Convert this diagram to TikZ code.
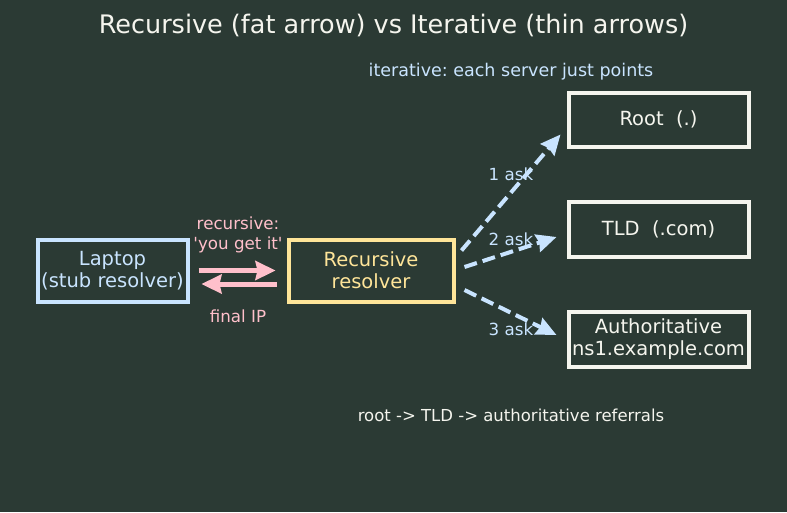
\documentclass[tikz,border=0pt]{standalone}
\usepackage{fontspec}
\setmainfont{DejaVu Sans}
\usetikzlibrary{arrows.meta}
\definecolor{bgcol}{HTML}{2B3A34}
\definecolor{lblue}{HTML}{C9E4FF}
\definecolor{lyellow}{HTML}{FFE599}
\definecolor{lpink}{HTML}{FFC0CB}
\definecolor{offwhite}{HTML}{F5F5EE}
\frenchspacing
\tikzset{
	box/.style={draw, line width=4pt, fill=bgcol, align=center, inner sep=0pt,
		font=\fontsize{19.5}{22}\selectfont},
	fat/.style={lpink, line width=5pt, -{Stealth[length=20pt,width=19pt,inset=2pt]}},
	iter/.style={lblue, line width=4pt, dash pattern=on 13pt off 6pt,
		-{Stealth[length=20pt,width=18pt,inset=2pt]}},
	small/.style={font=\fontsize{16.7}{20}\selectfont}
}
\begin{document}
\begin{tikzpicture}[x=1pt,y=-1pt]
			\fill[bgcol] (0,0) rectangle (787,512);
			\useasboundingbox (0,0) rectangle (787,512);
			
			\node[text=offwhite, font=\fontsize{25.5}{30}\selectfont] (title) at (393.5,25) {Recursive (fat arrow) vs Iterative (thin arrows)};
			\node[text=lblue, font=\fontsize{17.5}{21}\selectfont] (itnote) at (511,72) {iterative: each server just points};
			
			\node[box, draw=lblue, text=lblue, minimum width=150pt, minimum height=62pt] (lap) at (112.5,270.5) {Laptop\\(stub resolver)};
			\node[box, draw=lyellow, text=lyellow, minimum width=165pt, minimum height=62pt] (res) at (371,270.5) {Recursive\\resolver};
			\node[box, draw=offwhite, text=offwhite, minimum width=180pt, minimum height=54pt] (root) at (658.5,119.5) {Root\ \ (.)};
			\node[box, draw=offwhite, text=offwhite, minimum width=180pt, minimum height=55pt] (tld) at (658.5,229) {TLD\ \ (.com)};
			\node[box, draw=offwhite, text=offwhite, minimum width=180pt, minimum height=55pt] (auth) at (658.5,339) {Authoritative\\ns1.example.com};
			
			\draw[fat, shorten <=9pt, shorten >=11pt] (lap.east) -- (res.west);
			\draw[fat, shorten <=10pt, shorten >=12pt] ([yshift=-13.5pt]res.west) -- ([yshift=-13.5pt]lap.east);
			\node[small, text=lpink, align=center] (reclbl) at (238,235) {recursive:\\\textquotesingle you get it\textquotesingle};
			\node[small, text=lpink] (iplbl) at (238,316) {final IP};
			
			\draw[iter] ([xshift=6pt,yshift=20pt]res.east) -- ([xshift=-6pt,yshift=-15pt]root.west);
			\draw[iter] ([xshift=9pt,yshift=3.5pt]res.east) -- ([xshift=-10pt,yshift=-8pt]tld.west);
			\draw[iter] ([xshift=9pt,yshift=-19.5pt]res.east) -- ([xshift=-10pt,yshift=4pt]auth.west);
			\node[small, text=lblue] (ask1) at (511,174) {1 ask};
			\node[small, text=lblue] (ask2) at (511,239) {2 ask};
			\node[small, text=lblue] (ask3) at (511,329) {3 ask};
			
			\node[text=offwhite, font=\fontsize{16.5}{20}\selectfont] (chain) at (511,415) {root -> TLD -> authoritative referrals};
		\end{tikzpicture}
\end{document}
